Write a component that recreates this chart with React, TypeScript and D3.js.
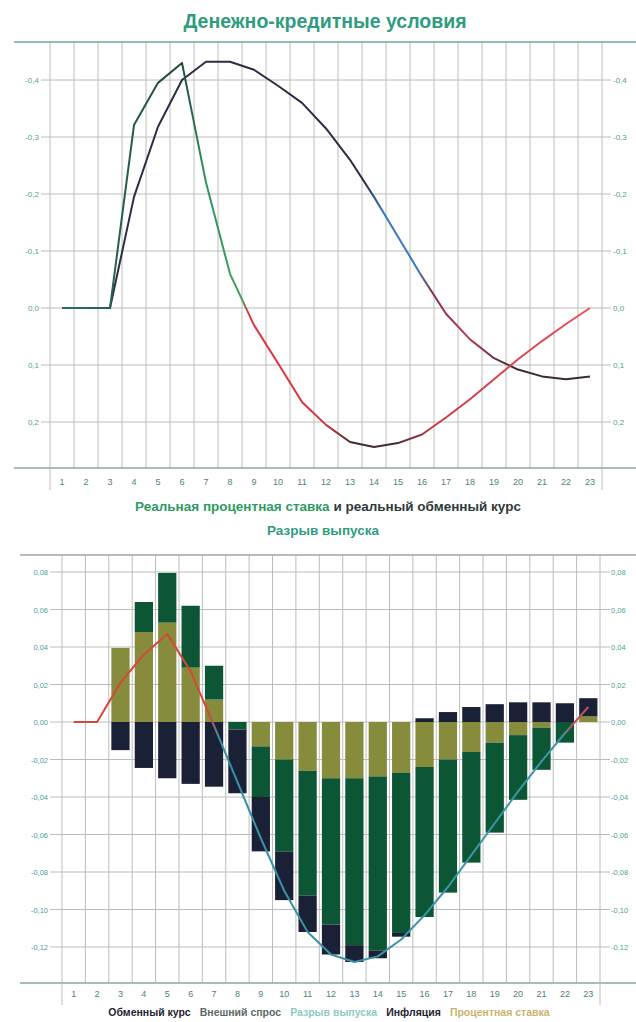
import React from 'react';
import * as d3 from 'd3';

const periods = ['1','2','3','4','5','6','7','8','9','10','11','12','13','14','15','16','17','18','19','20','21','22','23'];

// Top chart: real interest rate and real exchange rate (axis inverted)
const realRate = [0, 0, 0, -0.321, -0.395, -0.43, -0.22, -0.06, 0.03, 0.097, 0.165, 0.205, 0.235, 0.244, 0.237, 0.222, 0.192, 0.16, 0.125, 0.09, 0.058, 0.028, 0.0];
const realFx = [0, 0, 0, -0.195, -0.318, -0.4, -0.432, -0.432, -0.418, -0.39, -0.36, -0.315, -0.26, -0.195, -0.125, -0.055, 0.01, 0.055, 0.088, 0.108, 0.12, 0.125, 0.12];
const topTicks = [-0.4, -0.3, -0.2, -0.1, 0, 0.1, 0.2];

// Bottom chart: output gap decomposition
const outputGap = [0, 0, 0.021, 0.036, 0.047, 0.027, -0.002, -0.032, -0.062, -0.09, -0.112, -0.124, -0.128, -0.125, -0.116, -0.103, -0.088, -0.071, -0.054, -0.037, -0.021, -0.006, 0.008];
const contribInterest = [0, 0, 0.0395, 0.048, 0.053, 0.029, 0.012, 0, -0.013, -0.02, -0.026, -0.03, -0.03, -0.029, -0.027, -0.024, -0.02, -0.016, -0.011, -0.007, -0.003, 0, 0.003];
const contribExternal = [0, 0, 0, 0.016, 0.0265, 0.033, 0.018, -0.004, -0.027, -0.049, -0.0665, -0.078, -0.089, -0.093, -0.0855, -0.08, -0.071, -0.059, -0.048, -0.0345, -0.0225, -0.011, 0];
const contribFx = [0, 0, -0.015, -0.0245, -0.03, -0.033, -0.0345, -0.034, -0.029, -0.026, -0.0195, -0.016, -0.009, -0.004, -0.002, 0.002, 0.0053, 0.008, 0.0095, 0.0105, 0.0105, 0.01, 0.0097];
const botTicks = [0.08, 0.06, 0.04, 0.02, 0, -0.02, -0.04, -0.06, -0.08, -0.1, -0.12];

const legendNames = ['Обменный курс', 'Внешний спрос', 'Разрыв выпуска', 'Инфляция', 'Процентная ставка'];
const legendColors = ['#1e2430', '#5b6a66', '#8fc9c6', '#1e2430', '#c9b46a'];

const FONT = '"Liberation Sans", Arial, sans-serif';
const GRID = '#bcbcbc';
const FRAME = '#6fa79e';
const LABEL = '#4f9e98';

const fmt = (v: number, d: number) => (v < 0 ? '-' : '') + Math.abs(v).toFixed(d).replace('.', ',');

export default function App() {
  const W = 636;
  const H = 1022;

  // ---------- top chart ----------
  const xT = d3.scaleBand<string>().domain(periods).range([50, 602]).padding(0);
  const yT = d3.scaleLinear().domain([-0.4667, 0.2807]).range([42, 468]);
  const cxT = (i: number) => (xT(periods[i]) as number) + xT.bandwidth() / 2;
  const lineT = d3.line<number>().x((_, i) => cxT(i)).y((d) => yT(d));
  const offT = (band: number) => ((xT.bandwidth() * (band - 0.5)) / 552).toFixed(4);

  // ---------- bottom chart ----------
  const xB = d3.scaleBand<string>().domain(periods).range([62, 600]).paddingInner(0.22).paddingOuter(0.11);
  const xBgrid = d3.scaleBand<string>().domain(periods).range([62, 600]).padding(0);
  const yB = d3.scaleLinear().domain([0.08907, -0.1392]).range([555, 983]);
  const cxB = (i: number) => (xBgrid(periods[i]) as number) + xBgrid.bandwidth() / 2;
  const lineB = d3.line<number>().x((_, i) => cxB(i)).y((d) => yB(d));
  const offB = (band: number) => ((xBgrid.bandwidth() * (band - 0.5)) / 538).toFixed(4);

  const rows = periods.map((p, i) => ({
    p,
    interest: contribInterest[i],
    external: contribExternal[i],
    fx: contribFx[i],
  }));
  const keys = ['interest', 'external', 'fx'];
  const barColors: Record<string, string> = { interest: '#878b3c', external: '#0c5636', fx: '#1a2137' };
  const stacked = d3.stack<any>().keys(keys).offset(d3.stackOffsetDiverging)(rows);

  const topGrid = periods.map((p) => xT(p) as number).concat([602]);
  const botGrid = periods.map((p) => xBgrid(p) as number).concat([600]);

  return (
    <div style={{ position: 'absolute', left: 0, top: 0 }}>
      <svg width={W} height={H} style={{ display: 'block', background: '#ffffff', fontFamily: FONT }}>
        <defs>
          <linearGradient id="gRate" gradientUnits="userSpaceOnUse" x1={50} x2={602} y1={0} y2={0}>
            <stop offset={offT(1)} stopColor="#2a7358" />
            <stop offset={offT(6)} stopColor="#1f4a3c" />
            <stop offset={offT(7)} stopColor="#2f955a" />
            <stop offset={offT(8.5)} stopColor="#3aa35a" />
            <stop offset={offT(8.8)} stopColor="#e0343f" />
            <stop offset={offT(12)} stopColor="#d8323c" />
            <stop offset={offT(13)} stopColor="#4a2a32" />
            <stop offset={offT(15)} stopColor="#4a2a32" />
            <stop offset={offT(16.5)} stopColor="#c83a46" />
            <stop offset={offT(23)} stopColor="#e8505c" />
          </linearGradient>
          <linearGradient id="gFx" gradientUnits="userSpaceOnUse" x1={50} x2={602} y1={0} y2={0}>
            <stop offset={offT(1)} stopColor="#2a2d45" />
            <stop offset={offT(13.6)} stopColor="#2a2d45" />
            <stop offset={offT(14.4)} stopColor="#3a7ab8" />
            <stop offset={offT(15.8)} stopColor="#3a7ab8" />
            <stop offset={offT(16.5)} stopColor="#8a3044" />
            <stop offset={offT(18)} stopColor="#b84050" />
            <stop offset={offT(19.6)} stopColor="#3a2a35" />
            <stop offset={offT(23)} stopColor="#3a2a35" />
          </linearGradient>
          <linearGradient id="gGap" gradientUnits="userSpaceOnUse" x1={62} x2={600} y1={0} y2={0}>
            <stop offset={offB(1)} stopColor="#d4483a" />
            <stop offset={offB(6.8)} stopColor="#d4483a" />
            <stop offset={offB(7.2)} stopColor="#3a8ea0" />
            <stop offset={offB(21.8)} stopColor="#3a98a8" />
            <stop offset={offB(22.4)} stopColor="#c05060" />
            <stop offset={offB(23)} stopColor="#c05060" />
          </linearGradient>
        </defs>

        {/* ===== Top chart ===== */}
        <text x={325} y={28} textAnchor="middle" fontSize={19.5} fontWeight="bold" fill="#2f9c80">
          Денежно-кредитные условия
        </text>

        {topGrid.map((x, i) => (
          <line key={'tv' + i} x1={x} x2={x} y1={42} y2={468} stroke={GRID} strokeWidth={1} />
        ))}
        {topTicks.map((t) => (
          <g key={'tt' + t}>
            <line x1={41} x2={611} y1={yT(t)} y2={yT(t)} stroke={GRID} strokeWidth={1} />
            <text x={39} y={yT(t) + 3} textAnchor="end" fontSize={8} fill={LABEL}>{fmt(t, 1)}</text>
            <text x={613} y={yT(t) + 3} textAnchor="start" fontSize={8} fill={LABEL}>{fmt(t, 1)}</text>
          </g>
        ))}
        <line x1={14} x2={636} y1={42} y2={42} stroke={FRAME} strokeWidth={1.5} />
        <line x1={14} x2={636} y1={468} y2={468} stroke="#8aa9a6" strokeWidth={1.5} />
        <line x1={50} x2={50} y1={468} y2={490} stroke={GRID} strokeWidth={1} />
        <line x1={602} x2={602} y1={468} y2={490} stroke={GRID} strokeWidth={1} />
        {periods.map((p, i) => (
          <text key={'tx' + p} x={cxT(i)} y={485} textAnchor="middle" fontSize={9} fill="#4d7f7c">{p}</text>
        ))}

        <path d={lineT(realFx) || ''} fill="none" stroke="url(#gFx)" strokeWidth={2} strokeLinejoin="round" />
        <path d={lineT(realRate) || ''} fill="none" stroke="url(#gRate)" strokeWidth={2} strokeLinejoin="round" />

        <text x={328} y={511} textAnchor="middle" fontSize={13.5} fontWeight="bold">
          <tspan fill="#2e9a62">Реальная процентная ставка</tspan>
          <tspan fill="#2f3a3a"> и реальный обменный курс</tspan>
        </text>

        {/* ===== Bottom chart ===== */}
        <text x={323} y={535} textAnchor="middle" fontSize={13.5} fontWeight="bold" fill="#2f9c80">
          Разрыв выпуска
        </text>

        {botGrid.map((x, i) => (
          <line key={'bv' + i} x1={x} x2={x} y1={555} y2={983} stroke={GRID} strokeWidth={1} />
        ))}
        {botTicks.map((t) => (
          <g key={'bt' + t}>
            <line x1={50} x2={610} y1={yB(t)} y2={yB(t)} stroke={GRID} strokeWidth={1} />
            <text x={48} y={yB(t) + 3} textAnchor="end" fontSize={7.5} fill={LABEL}>{fmt(t, 2)}</text>
            <text x={611} y={yB(t) + 3} textAnchor="start" fontSize={7.5} fill={LABEL}>{fmt(t, 2)}</text>
          </g>
        ))}
        <line x1={20} x2={636} y1={555} y2={555} stroke="#9aa8a6" strokeWidth={1.5} />
        <line x1={20} x2={636} y1={983} y2={983} stroke="#8aa9a6" strokeWidth={1.5} />
        <line x1={62} x2={62} y1={983} y2={1005} stroke={GRID} strokeWidth={1} />
        <line x1={600} x2={600} y1={983} y2={1005} stroke={GRID} strokeWidth={1} />
        {periods.map((p, i) => (
          <text key={'bx' + p} x={cxB(i)} y={997} textAnchor="middle" fontSize={9} fill="#4d7f7c">{p}</text>
        ))}

        {stacked.map((s) => (
          <g key={s.key} fill={barColors[s.key]}>
            {s.map((d, i) => {
              const y0 = yB(d[0]);
              const y1 = yB(d[1]);
              const h = Math.abs(y1 - y0);
              if (h < 0.01) return null;
              return (
                <rect key={i} x={xB(periods[i]) as number} width={xB.bandwidth()} y={Math.min(y0, y1)} height={h} />
              );
            })}
          </g>
        ))}

        <path d={lineB(outputGap) || ''} fill="none" stroke="url(#gGap)" strokeWidth={2} strokeLinejoin="round" />

        <text x={329} y={1016} textAnchor="middle" fontSize={10.5} fontWeight="bold">
          {legendNames.map((n, i) => (
            <tspan key={n} fill={legendColors[i]} dx={i === 0 ? 0 : 9}>{n}</tspan>
          ))}
        </text>
      </svg>
    </div>
  );
}
